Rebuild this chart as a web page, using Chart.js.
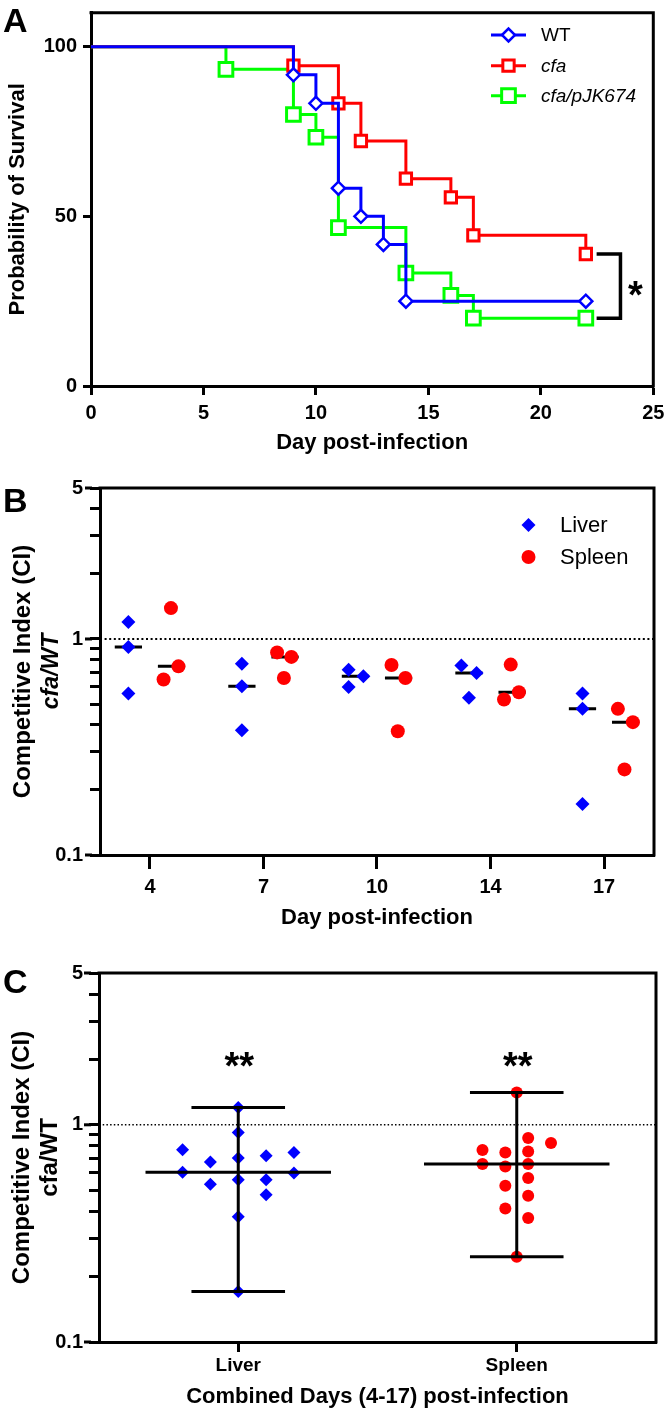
<!DOCTYPE html>
<html><head><meta charset="utf-8">
<script src="https://cdn.jsdelivr.net/npm/chart.js@4"></script>
<style>
html,body{margin:0;padding:0;background:#fff;}
body{width:666px;height:1410px;position:relative;overflow:hidden;}
canvas{position:absolute;left:0;display:block;}
</style></head><body>
<canvas id="cA" width="666" height="470" style="top:0px;width:666px;height:470px"></canvas>
<canvas id="cB" width="666" height="480" style="top:470px;width:666px;height:480px"></canvas>
<canvas id="cC" width="666" height="460" style="top:950px;width:666px;height:460px"></canvas>
<script>
// ---------------- DATA ----------------
// Panel A: Kaplan-Meier survival (day, % survival)
const wtDays        = [0, 9, 10, 11, 12, 13, 14, 22];
const wtSurvival    = [100, 91.7, 83.3, 58.3, 50, 41.7, 25, 25];
const cfaDays       = [0, 9, 11, 12, 14, 16, 17, 22];
const cfaSurvival   = [100, 94.4, 83.3, 72.2, 61.1, 55.6, 44.4, 38.9];
const compDays      = [0, 6, 9, 10, 11, 14, 16, 17, 22];
const compSurvival  = [100, 93.3, 80, 73.3, 46.7, 33.3, 26.7, 20, 20];
const survivalXTicks = [0, 5, 10, 15, 20, 25];
const survivalYTicks = [0, 50, 100];

// Panel B: competitive index per day
const dayCategories = ['4', '7', '10', '14', '17'];
const liverGroup  = [0,0,0, 1,1,1, 2,2,2, 3,3,3, 4,4,4];
const liverJitter = [-0.19,-0.19,-0.19, -0.19,-0.19,-0.19, -0.25,-0.12,-0.25, -0.257,-0.123,-0.19, -0.19,-0.19,-0.19];
const liverCI     = [1.198,0.918,0.559, 0.769,0.604,0.378, 0.721,0.672,0.600, 0.753,0.696,0.534, 0.559,0.475,0.172];
const spleenGroup  = [0,0,0, 1,1,1, 2,2,2, 3,3,3, 4,4,4];
const spleenJitter = [0.185,0.12,0.251, 0.12,0.246,0.18, 0.128,0.25,0.183, 0.178,0.25,0.119, 0.122,0.254,0.18];
const spleenCI     = [1.39,0.649,0.747, 0.867,0.826,0.660, 0.758,0.660,0.374, 0.761,0.567,0.525, 0.475,0.412,0.249];
const ciAllTicks   = [0.1,0.2,0.3,0.4,0.5,0.6,0.7,0.8,0.9,1,2,3,4,5];
const ciMajorTicks = [0.1, 1, 5];

// Panel C: combined days
const tissueCategories = ['Liver', 'Spleen'];
const cLiverCI     = [1.20,0.922,0.767,0.746,0.72,0.674,0.703,0.604,0.600,0.559,0.559,0.533,0.477,0.377,0.171];
const cLiverJitter = [0,0,-0.2,0.2,0.1,-0.1,0,-0.2,0.2,0,0.1,-0.1,0.1,0,0];
const cSpleenCI     = [1.41,0.869,0.824,0.765,0.746,0.754,0.66,0.643,0.66,0.569,0.524,0.471,0.412,0.372,0.247];
const cSpleenJitter = [0,0.041,0.123,-0.123,-0.041,0.041,-0.123,-0.041,0.041,0.041,-0.041,0.041,-0.041,0.041,0];
const cSignificance = ['**', '**'];

// ---------------- STYLE ----------------
const FONT = "'Liberation Sans', Arial, Helvetica, sans-serif";
const BLACK = '#000000', BLUE = '#0000ff', RED = '#ff0000', GREEN = '#00ff00';

function median(a){ const s=[...a].sort((p,q)=>p-q); const n=s.length; return n%2 ? s[(n-1)/2] : (s[n/2-1]+s[n/2])/2; }

function drawMarker(ctx, style, x, y, r, fill, stroke, bw){
  ctx.beginPath();
  if (style === 'rectRot'){ ctx.moveTo(x-r,y); ctx.lineTo(x,y-r); ctx.lineTo(x+r,y); ctx.lineTo(x,y+r); ctx.closePath(); }
  else if (style === 'rect'){ const s=Math.SQRT1_2*r; ctx.rect(x-s,y-s,2*s,2*s); }
  else { ctx.arc(x,y,r,0,Math.PI*2); }
  if (fill){ ctx.fillStyle=fill; ctx.fill(); }
  if (stroke && bw){ ctx.lineWidth=bw; ctx.strokeStyle=stroke; ctx.lineJoin='miter'; ctx.stroke(); }
}

function drawFrame(chart){
  const {ctx, chartArea:{left,top,right,bottom}} = chart;
  ctx.save();
  ctx.strokeStyle=BLACK; ctx.lineWidth=3; ctx.lineCap='square'; ctx.lineJoin='miter';
  ctx.beginPath(); ctx.moveTo(left,top); ctx.lineTo(right,top); ctx.lineTo(right,bottom); ctx.stroke();
  ctx.restore();
}
function drawLetter(chart, letter, x, y){
  const ctx=chart.ctx; ctx.save();
  ctx.fillStyle=BLACK; ctx.font=`bold 34px ${FONT}`; ctx.textAlign='left'; ctx.textBaseline='alphabetic';
  ctx.fillText(letter, x, y); ctx.restore();
}
function drawMajorTicks(chart){
  const {ctx, chartArea:{left}, scales:{y}} = chart;
  ctx.save(); ctx.strokeStyle=BLACK; ctx.lineWidth=3;
  ciMajorTicks.forEach(v=>{ const py=y.getPixelForValue(v); ctx.beginPath(); ctx.moveTo(left-15,py); ctx.lineTo(left-8,py); ctx.stroke(); });
  ctx.restore();
}
function zeroPad(s){ s.paddingLeft=0; s.paddingRight=0; s.paddingTop=0; s.paddingBottom=0; }

const tickFont = {family:FONT, size:20, weight:'bold'};
const titleFont = {family:FONT, size:22, weight:'bold'};
const commonOpts = {responsive:false, animation:false, devicePixelRatio:1, events:[],
  plugins:{legend:{display:false}, tooltip:{enabled:false}}};

// ---------------- PANEL A ----------------
function survDS(label, days, surv, color, style, r, bw, italic){
  return {label, data: days.map((d,i)=>({x:d, y:surv[i]})), borderColor:color, backgroundColor:color,
    borderWidth:3, stepped:true, fill:false, tension:0,
    pointStyle:style, pointRadius:c=>c.dataIndex===0?0:r, pointHoverRadius:c=>c.dataIndex===0?0:r,
    pointBorderWidth:bw, pointBorderColor:color, pointBackgroundColor:'#ffffff',
    legendItalic:italic, markerR:r, markerBW:bw, markerStyle:style};
}
const pluginA = {id:'decoA', afterDraw(chart){
  const {ctx, scales:{x,y}} = chart;
  drawFrame(chart);
  drawLetter(chart,'A',3,32);
  // legend
  const rows=[35,65.7,95.7];
  chart.data.datasets.forEach((ds,i)=>{
    const ly=rows[i];
    ctx.save(); ctx.strokeStyle=ds.borderColor; ctx.lineWidth=3;
    ctx.beginPath(); ctx.moveTo(491,ly); ctx.lineTo(526,ly); ctx.stroke();
    drawMarker(ctx, ds.markerStyle, 508.5, ly, ds.markerR, '#ffffff', ds.borderColor, ds.markerBW);
    ctx.fillStyle=BLACK; ctx.font=`${ds.legendItalic?'italic ':''}19px ${FONT}`; ctx.textAlign='left'; ctx.textBaseline='middle';
    ctx.fillText(ds.label, 541, ly+1);
    ctx.restore();
  });
  // significance bracket
  const bx1=x.getPixelForValue(22.48), bx2=x.getPixelForValue(23.54);
  const by1=y.getPixelForValue(cfaSurvival[cfaSurvival.length-1]);
  const by2=y.getPixelForValue(compSurvival[compSurvival.length-1]);
  ctx.save(); ctx.strokeStyle=BLACK; ctx.lineWidth=3.5; ctx.lineJoin='miter';
  ctx.beginPath(); ctx.moveTo(bx1,by1); ctx.lineTo(bx2,by1); ctx.lineTo(bx2,by2); ctx.lineTo(bx1,by2); ctx.stroke();
  ctx.fillStyle=BLACK; ctx.font=`bold 38px ${FONT}`; ctx.textAlign='center'; ctx.textBaseline='alphabetic';
  ctx.fillText('*', x.getPixelForValue(24.2), (by1+by2)/2+22);
  ctx.restore();
}};

new Chart(document.getElementById('cA'), {
  type:'line',
  data:{datasets:[
    survDS('WT', wtDays, wtSurvival, BLUE, 'rectRot', 6.5, 2.5, false),
    survDS('cfa', cfaDays, cfaSurvival, RED, 'rect', 8, 3, true),
    survDS('cfa/pJK674', compDays, compSurvival, GREEN, 'rect', 9.7, 3, true)
  ]},
  options:{...commonOpts,
    layout:{padding:{left:0,right:10,top:12,bottom:0}},
    scales:{
      x:{type:'linear', min:0, max:25,
        afterBuildTicks:s=>{ s.ticks=survivalXTicks.map(v=>({value:v})); },
        afterFit:s=>{ s.height=84; zeroPad(s); },
        grid:{drawOnChartArea:false, tickLength:9, tickWidth:3, tickColor:BLACK},
        border:{color:BLACK, width:3},
        ticks:{color:BLACK, font:tickFont, padding:6, maxRotation:0, autoSkip:false},
        title:{display:true, text:'Day post-infection', color:BLACK, font:titleFont, padding:{top:0,bottom:14}}},
      y:{type:'linear', min:0, max:110,
        afterBuildTicks:s=>{ s.ticks=survivalYTicks.map(v=>({value:v})); },
        afterFit:s=>{ s.width=91; zeroPad(s); },
        grid:{drawOnChartArea:false, tickLength:8, tickWidth:3, tickColor:BLACK},
        border:{color:BLACK, width:3},
        ticks:{color:BLACK, font:tickFont, padding:6},
        title:{display:true, text:'Probability of Survival', color:BLACK, font:titleFont, padding:{top:5,bottom:0}}}
    }},
  plugins:[pluginA]
});

// ---------------- PANEL B ----------------
const B_XMIN=-0.44, B_XMAX=4.44, B_LIVER_C=-0.19, B_SPLEEN_C=0.19, B_MED_HALF=0.12;
function groupMedianSegments(groups, values, n, center, half){
  const out=[];
  for(let g=0; g<n; g++){
    const vals=values.filter((v,i)=>groups[i]===g);
    const m=median(vals);
    out.push({x:g+center-half,y:m},{x:g+center+half,y:m},{x:g+center+half,y:null});
  }
  return out;
}
const pluginB = {id:'decoB', afterDraw(chart){
  const {ctx, chartArea:{top,bottom}} = chart;
  drawFrame(chart);
  drawMajorTicks(chart);
  drawLetter(chart,'B',3,42);
  // legend
  const items=[chart.data.datasets[0], chart.data.datasets[1]];
  const rows=[55,87];
  items.forEach((ds,i)=>{
    drawMarker(ctx, ds.pointStyle, 528.5, rows[i], 7, ds.pointBackgroundColor, null, 0);
    ctx.save(); ctx.fillStyle=BLACK; ctx.font=`22px ${FONT}`; ctx.textAlign='left'; ctx.textBaseline='middle';
    ctx.fillText(ds.label, 560, rows[i]+1); ctx.restore();
  });
  // second line of y title (italic)
  ctx.save(); ctx.translate(52,(top+bottom)/2); ctx.rotate(-Math.PI/2);
  ctx.fillStyle=BLACK; ctx.font=`italic bold 23px ${FONT}`; ctx.textAlign='center'; ctx.textBaseline='middle';
  ctx.fillText('cfa/WT',0,0); ctx.restore();
}};

new Chart(document.getElementById('cB'), {
  type:'line',
  data:{datasets:[
    {label:'Liver', data:liverCI.map((v,i)=>({x:liverGroup[i]+liverJitter[i], y:v})), showLine:false,
      pointStyle:'rectRot', pointRadius:7, pointHoverRadius:7, pointBackgroundColor:BLUE, pointBorderWidth:0, borderColor:BLUE, backgroundColor:BLUE},
    {label:'Spleen', data:spleenCI.map((v,i)=>({x:spleenGroup[i]+spleenJitter[i], y:v})), showLine:false,
      pointStyle:'circle', pointRadius:7, pointHoverRadius:7, pointBackgroundColor:RED, pointBorderWidth:0, borderColor:RED, backgroundColor:RED},
    {label:'median', data:[...groupMedianSegments(liverGroup, liverCI, dayCategories.length, B_LIVER_C, B_MED_HALF),
                           ...groupMedianSegments(spleenGroup, spleenCI, dayCategories.length, B_SPLEEN_C, B_MED_HALF)],
      borderColor:BLACK, borderWidth:3, pointRadius:0, spanGaps:false, borderCapStyle:'butt'},
    {label:'ref', data:[{x:B_XMIN,y:1},{x:B_XMAX,y:1}], borderColor:BLACK, borderWidth:2, borderDash:[2,2.6], pointRadius:0}
  ]},
  options:{...commonOpts,
    layout:{padding:{left:0,right:12,top:18,bottom:0}},
    scales:{
      x:{type:'linear', min:B_XMIN, max:B_XMAX,
        afterBuildTicks:s=>{ s.ticks=dayCategories.map((c,i)=>({value:i})); },
        afterFit:s=>{ s.height=95; zeroPad(s); },
        grid:{drawOnChartArea:false, tickLength:14, tickWidth:3, tickColor:BLACK},
        border:{color:BLACK, width:3},
        ticks:{color:BLACK, font:tickFont, padding:6, maxRotation:0, autoSkip:false,
          callback:v=>dayCategories[Math.round(v)] ?? ''},
        title:{display:true, text:'Day post-infection', color:BLACK, font:titleFont, padding:{top:0,bottom:19}}},
      y:{type:'logarithmic', min:0.1, max:5,
        afterBuildTicks:s=>{ s.ticks=ciAllTicks.map(v=>({value:v})); },
        afterFit:s=>{ s.width=100; zeroPad(s); },
        grid:{drawOnChartArea:false, tickLength:10, tickWidth:3, tickColor:BLACK},
        border:{color:BLACK, width:3},
        ticks:{color:BLACK, font:tickFont, padding:7, autoSkip:false,
          callback:v=>ciMajorTicks.includes(v)?String(v):''},
        title:{display:true, text:'Competitive Index (CI)', color:BLACK, font:{family:FONT,size:24,weight:'bold',lineHeight:'28px'}, padding:{top:9,bottom:0}}}
    }},
  plugins:[pluginB]
});

// ---------------- PANEL C ----------------
const C_XMIN=-0.5, C_XMAX=1.5, C_MED_HALF=0.333, C_CAP_HALF=0.168, C_SIG_Y=2.05;
function rangeSegments(values, g){
  const m=median(values), lo=Math.min(...values), hi=Math.max(...values);
  return [
    {x:g-C_MED_HALF,y:m},{x:g+C_MED_HALF,y:m},{x:g,y:null},
    {x:g,y:lo},{x:g,y:hi},{x:g,y:null},
    {x:g-C_CAP_HALF,y:hi},{x:g+C_CAP_HALF,y:hi},{x:g,y:null},
    {x:g-C_CAP_HALF,y:lo},{x:g+C_CAP_HALF,y:lo},{x:g,y:null}
  ];
}
const pluginC = {id:'decoC', afterDraw(chart){
  const {ctx, scales:{x,y}} = chart;
  drawFrame(chart);
  drawMajorTicks(chart);
  drawLetter(chart,'C',3,43);
  ctx.save(); ctx.fillStyle=BLACK; ctx.font=`bold 38px ${FONT}`; ctx.textAlign='center'; ctx.textBaseline='alphabetic';
  cSignificance.forEach((t,i)=>{ ctx.fillText(t, x.getPixelForValue(i)+1, y.getPixelForValue(C_SIG_Y)+22); });
  ctx.restore();
}};

new Chart(document.getElementById('cC'), {
  type:'line',
  data:{datasets:[
    {label:'range', data:[...rangeSegments(cLiverCI,0), ...rangeSegments(cSpleenCI,1)],
      borderColor:BLACK, borderWidth:3, pointRadius:0, spanGaps:false, borderCapStyle:'butt'},
    {label:'Liver', data:cLiverCI.map((v,i)=>({x:0+cLiverJitter[i], y:v})), showLine:false,
      pointStyle:'rectRot', pointRadius:6.5, pointHoverRadius:6.5, pointBackgroundColor:BLUE, pointBorderWidth:0, borderColor:BLUE},
    {label:'Spleen', data:cSpleenCI.map((v,i)=>({x:1+cSpleenJitter[i], y:v})), showLine:false,
      pointStyle:'circle', pointRadius:6, pointHoverRadius:6, pointBackgroundColor:RED, pointBorderWidth:0, borderColor:RED},
    {label:'ref', data:[{x:C_XMIN,y:1},{x:C_XMAX,y:1}], borderColor:BLACK, borderWidth:1.5, borderDash:[1.5,2.2], pointRadius:0}
  ]},
  options:{...commonOpts,
    layout:{padding:{left:0,right:10,top:23,bottom:0}},
    scales:{
      x:{type:'linear', min:C_XMIN, max:C_XMAX,
        afterBuildTicks:s=>{ s.ticks=tissueCategories.map((c,i)=>({value:i})); },
        afterFit:s=>{ s.height=68; zeroPad(s); },
        grid:{drawOnChartArea:false, tickLength:10, tickWidth:3, tickColor:BLACK},
        border:{color:BLACK, width:3},
        ticks:{color:BLACK, font:{family:FONT,size:19,weight:'bold'}, padding:2, maxRotation:0, autoSkip:false,
          callback:v=>tissueCategories[Math.round(v)] ?? ''},
        title:{display:true, text:'Combined Days (4-17) post-infection', color:BLACK, font:titleFont, padding:{top:0,bottom:0}}},
      y:{type:'logarithmic', min:0.1, max:5,
        afterBuildTicks:s=>{ s.ticks=ciAllTicks.map(v=>({value:v})); },
        afterFit:s=>{ s.width=99; zeroPad(s); },
        grid:{drawOnChartArea:false, tickLength:10, tickWidth:3, tickColor:BLACK},
        border:{color:BLACK, width:3},
        ticks:{color:BLACK, font:tickFont, padding:6, autoSkip:false,
          callback:v=>ciMajorTicks.includes(v)?String(v):''},
        title:{display:true, text:['Competitive Index (CI)','cfa/WT'], color:BLACK, font:{family:FONT,size:24,weight:'bold',lineHeight:'28px'}, padding:{top:8,bottom:0}}}
    }},
  plugins:[pluginC]
});
</script>
</body></html>
